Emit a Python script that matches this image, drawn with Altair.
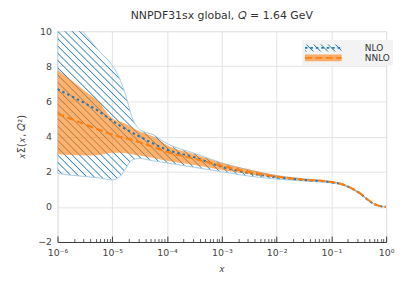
import math
import altair as alt
import pandas as pd

# ---------------- data ----------------
x_vals = [1e-6, 1.78e-6, 3.16e-6, 5.62e-6, 1e-5, 1.41e-5, 1.78e-5, 2.24e-5,
          3.16e-5, 5.62e-5, 1e-4, 3.16e-4, 1e-3, 3.16e-3, 1e-2, 3.16e-2,
          0.1, 0.158, 0.251, 0.355, 0.501, 0.708, 1.0]

nlo_central = [6.7, 6.3, 5.9, 5.45, 4.9, 4.6, 4.42, 4.25, 4.0, 3.6, 3.25, 2.82,
               2.28, 1.92, 1.68, 1.53, 1.40, 1.28, 1.0, 0.7, 0.32, 0.07, 0.0]
nlo_upper = [11.5, 10.7, 9.85, 8.9, 8.05, 7.2, 6.3, 5.2, 4.4, 4.1, 3.6, 3.05,
             2.5, 2.1, 1.78, 1.6, 1.44, 1.31, 1.03, 0.73, 0.34, 0.09, 0.0]
nlo_lower = [1.9, 1.8, 1.73, 1.65, 1.53, 1.75, 2.2, 2.65, 2.75, 2.62, 2.5, 2.25,
             2.0, 1.75, 1.58, 1.47, 1.36, 1.24, 0.97, 0.67, 0.3, 0.05, 0.0]

nnlo_central = [5.3, 5.0, 4.7, 4.4, 4.12, 3.98, 3.9, 3.82, 3.68, 3.4, 3.12, 2.74,
                2.33, 1.98, 1.72, 1.55, 1.42, 1.29, 1.01, 0.71, 0.33, 0.08, 0.0]
nnlo_upper = [7.8, 7.2, 6.6, 6.0, 5.05, 4.85, 4.72, 4.55, 4.3, 4.0, 3.5, 3.0,
              2.5, 2.12, 1.8, 1.6, 1.45, 1.32, 1.04, 0.74, 0.35, 0.09, 0.0]
nnlo_lower = [3.0, 2.95, 2.92, 2.95, 3.08, 3.08, 3.05, 3.0, 2.92, 2.78, 2.62, 2.38,
              2.1, 1.85, 1.64, 1.5, 1.38, 1.26, 0.98, 0.68, 0.31, 0.06, 0.0]

series_names = ["NLO", "NNLO"]
x_tick_values = [1e-6, 1e-5, 1e-4, 1e-3, 1e-2, 1e-1, 1.0]
x_tick_labels = ["10⁻⁶", "10⁻⁵", "10⁻⁴", "10⁻³", "10⁻²", "10⁻¹", "10⁰"]
x_minor_values = [m * d for d in [1e-6, 1e-5, 1e-4, 1e-3, 1e-2, 1e-1] for m in range(2, 10)]
y_tick_values = [-2, 0, 2, 4, 6, 8, 10]

title_text = "NNPDF31sx global, 𝑄 = 1.64 GeV"
x_title = "𝑥"
y_title = "𝑥Σ(𝑥, 𝑄²)"

# ---------------- tables ----------------
bands = pd.DataFrame({
    "x": x_vals,
    "nlo_lo": nlo_lower, "nlo_hi": nlo_upper,
    "nnlo_lo": nnlo_lower, "nnlo_hi": nnlo_upper,
})
lines = pd.DataFrame({
    "x": x_vals + x_vals,
    "v": nlo_central + nnlo_central,
    "series": ["NLO"] * len(x_vals) + ["NNLO"] * len(x_vals),
})

W, H = 332, 213
BLUE = "#1f77b4"
ORANGE = "#ff7f0e"
GRID = "#e4e4e4"
TEXT = "#444444"
FONT = "DejaVu Sans"
CLEAR = "rgba(31,119,180,0)"
HATCH = "rgba(31,119,180,0.9)"


def hatch_stops(n, duty=0.32):
    stops = []
    for i in range(n):
        stops.append((i / n, CLEAR))
        stops.append(((i + duty / 2) / n, HATCH))
        stops.append(((i + duty) / n, CLEAR))
    stops.append((1, CLEAR))
    return stops


def hatch(w, h, n):
    """diagonal hatch as a striped linear gradient in bounding-box units"""
    c = (w + h) * w / (w * w + h * h)
    return {"gradient": "linear", "x1": 0, "y1": 1, "x2": c, "y2": 1 - c * h / w,
            "stops": [{"offset": o, "color": col} for o, col in hatch_stops(n)]}


def hatch_expr(w, h, n):
    c = (w + h) * w / (w * w + h * h)
    stops = ", ".join(f"{{offset: {o:.5f}, color: '{col}'}}" for o, col in hatch_stops(n))
    return (f"{{gradient: 'linear', x1: 0, y1: 1, x2: {c:.5f}, y2: {1 - c * h / w:.5f}, "
            f"stops: [{stops}]}}")


big_hatch = hatch(332, 204, 73)

label_expr = " : ".join(
    f"abs(log(datum.value)/LN10 - ({round(math.log10(v))})) < 0.1 ? '{lab}'"
    for v, lab in zip(x_tick_values, x_tick_labels)
) + " : ''"

xscale = alt.Scale(type="log", domain=[1e-6, 1], nice=False)
yscale = alt.Scale(domain=[-2, 10], nice=False, zero=False)

x_main_axis = alt.Axis(values=x_tick_values, labelExpr=label_expr, grid=True,
                       gridColor=GRID, gridWidth=1, ticks=False, domain=False,
                       labelPadding=6, labelFlush=False, labelOverlap=False,
                       labelFontSize=9.5, labelColor=TEXT, labelFont=FONT,
                       title=x_title, titleFontSize=10, titleFontWeight="normal",
                       titleColor=TEXT, titleFont=FONT, titlePadding=6)
x_major_ticks = alt.Axis(orient="top", offset=-H, values=x_tick_values, labels=False,
                         grid=False, domain=True, domainColor="#3a3a3a", domainWidth=1,
                         ticks=True, tickColor="#3a3a3a", tickSize=6, tickWidth=1,
                         title=None, zindex=1)
x_minor_ticks = alt.Axis(orient="top", offset=-H, values=x_minor_values, labels=False,
                         grid=False, domain=False, ticks=True, tickColor="#3a3a3a",
                         tickSize=3.5, tickWidth=0.8, title=None, zindex=1)
y_main_axis = alt.Axis(values=y_tick_values, labelExpr="replace(datum.label, '-', '−')",
                       grid=True, gridColor=GRID, gridWidth=1, ticks=False, domain=False,
                       labelPadding=6, labelFontSize=9.5, labelColor=TEXT, labelFont=FONT,
                       title=y_title, titleFontSize=10, titleFontWeight="normal",
                       titleColor=TEXT, titleFont=FONT, titlePadding=11)

leg_common = dict(orient="none", legendX=247, legendY=9, title=None, padding=3,
                  symbolOffset=13.5, labelOffset=37, labelFontSize=9, labelFont=FONT,
                  rowPadding=0)

legend_fill = alt.Legend(
    fillColor="#f3f3f3", cornerRadius=2, labelColor="#333333",
    symbolType="M-4,-0.75H4V0.75H-4Z", symbolSize=85.56, symbolStrokeWidth=0,
    symbolOpacity=1, **leg_common)

legend_line = alt.Legend(
    labelColor="rgba(0,0,0,0)", symbolType="M-4.625,0H4.625", symbolSize=64,
    symbolStrokeWidth=1.8, symbolFillColor="transparent", **leg_common)

nlo_band = alt.Chart(bands).mark_area(
    interpolate="monotone", clip=True, fill=big_hatch,
    stroke="#a9cbe4", strokeWidth=1
).encode(
    x=alt.X("x:Q", scale=xscale, axis=x_main_axis),
    y=alt.Y("nlo_lo:Q", scale=yscale, axis=y_main_axis),
    y2="nlo_hi:Q",
)

nnlo_band = alt.Chart(bands).mark_area(
    interpolate="monotone", clip=True
).transform_calculate(band="'NNLO'").encode(
    x=alt.X("x:Q", scale=xscale, axis=x_major_ticks),
    y=alt.Y("nnlo_lo:Q", scale=yscale, axis=None),
    y2="nnlo_hi:Q",
    fill=alt.Fill("band:N",
                  scale=alt.Scale(domain=series_names,
                                  range=[alt.ExprRef(hatch_expr(37, 7, 6)),
                                         "rgba(255,127,14,0.6)"]),
                  legend=legend_fill),
)

central = alt.Chart(lines).mark_line(
    interpolate="monotone", clip=True, strokeWidth=2
).encode(
    x=alt.X("x:Q", scale=xscale, axis=x_minor_ticks),
    y=alt.Y("v:Q", scale=yscale, axis=None),
    color=alt.Color("series:N", scale=alt.Scale(range=[BLUE, ORANGE]), legend=legend_line),
    strokeDash=alt.StrokeDash("series:N", scale=alt.Scale(range=[[2.5, 3], [7, 3.5]]),
                              legend=legend_line),
)

chart = alt.layer(nlo_band, nnlo_band, central).resolve_axis(
    x="independent", y="independent"
).properties(
    width=W, height=H,
    padding={"left": 8, "top": 1, "right": 5, "bottom": 5},
    title=alt.TitleParams(title_text, fontSize=11, fontWeight="normal", color="#333333",
                          font=FONT, offset=5),
).configure_view(strokeWidth=0).configure(font=FONT)

chart.save("out.html", embed_options={"renderer": "svg", "actions": False})
